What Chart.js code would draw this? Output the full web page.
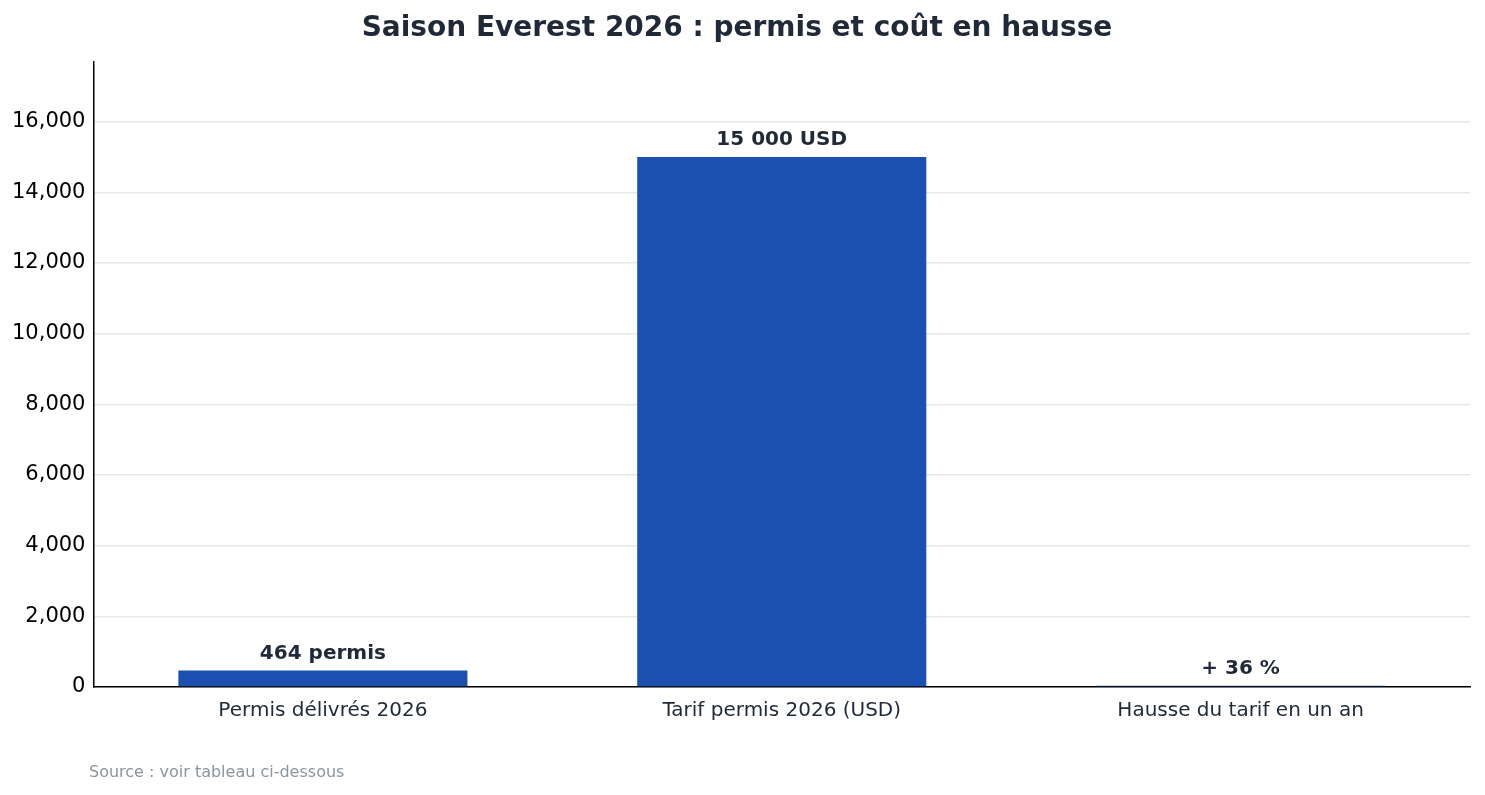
<!DOCTYPE html>
<html><head><meta charset="utf-8">
<script src="https://cdn.jsdelivr.net/npm/chart.js@4"></script>
<style>html,body{margin:0;padding:0;background:#fff}#w{position:relative;width:1485px;height:795px}
#src{position:absolute;left:89px;top:762px;font:16px "DejaVu Sans";color:#8a95a0}</style>
</head><body><div id="w"><canvas id="c" width="1485" height="795"></canvas><div id="src">Source : voir tableau ci-dessous</div></div>
<script>
const categories = ["Permis délivrés 2026", "Tarif permis 2026 (USD)", "Hausse du tarif en un an"];
const values = [464, 15000, 36];
const valueLabels = ["464 permis", "15 000 USD", "+ 36 %"];
const yTicks = [0, 2000, 4000, 6000, 8000, 10000, 12000, 14000, 16000];
const F = "DejaVu Sans";
const labelPlugin = {
  id: 'vl',
  afterDatasetsDraw(chart) {
    const ctx = chart.ctx;
    const meta = chart.getDatasetMeta(0);
    ctx.save();
    ctx.font = "bold 20px '" + F + "'";
    ctx.fillStyle = "#1f2937";
    ctx.textAlign = "center";
    ctx.textBaseline = "middle";
    meta.data.forEach((b, i) => ctx.fillText(valueLabels[i], b.x, b.y - 17));
    ctx.restore();
  }
};
new Chart(document.getElementById('c'), {
  type: 'bar',
  data: { labels: categories, datasets: [{ data: values, backgroundColor: '#1b4fb0', barPercentage: 0.63, categoryPercentage: 1 }] },
  options: {
    responsive: false, animation: false,
    layout: { padding: { left: 4, right: 15, top: 0, bottom: 68 } },
    plugins: {
      legend: { display: false }, tooltip: { enabled: false },
      title: { display: true, text: "Saison Everest 2026 : permis et coût en hausse", color: '#1f2937',
        font: { family: F, size: 28, weight: 'bold' }, padding: { top: 12, bottom: 16 } }
    },
    scales: {
      x: { grid: { display: false }, border: { color: '#000', width: 1.5 },
        ticks: { color: '#1f2937', font: { family: F, size: 20 }, padding: 4 } },
      y: { min: 0, max: 17700, border: { color: '#000', width: 1.5 },
        afterBuildTicks: s => { s.ticks = yTicks.map(v => ({ value: v })); },
        grid: { color: '#e5e7eb', lineWidth: 1.5, drawTicks: false },
        ticks: { color: '#000', font: { family: F, size: 21 }, padding: 8 } }
    }
  },
  plugins: [labelPlugin]
});
</script></body></html>
